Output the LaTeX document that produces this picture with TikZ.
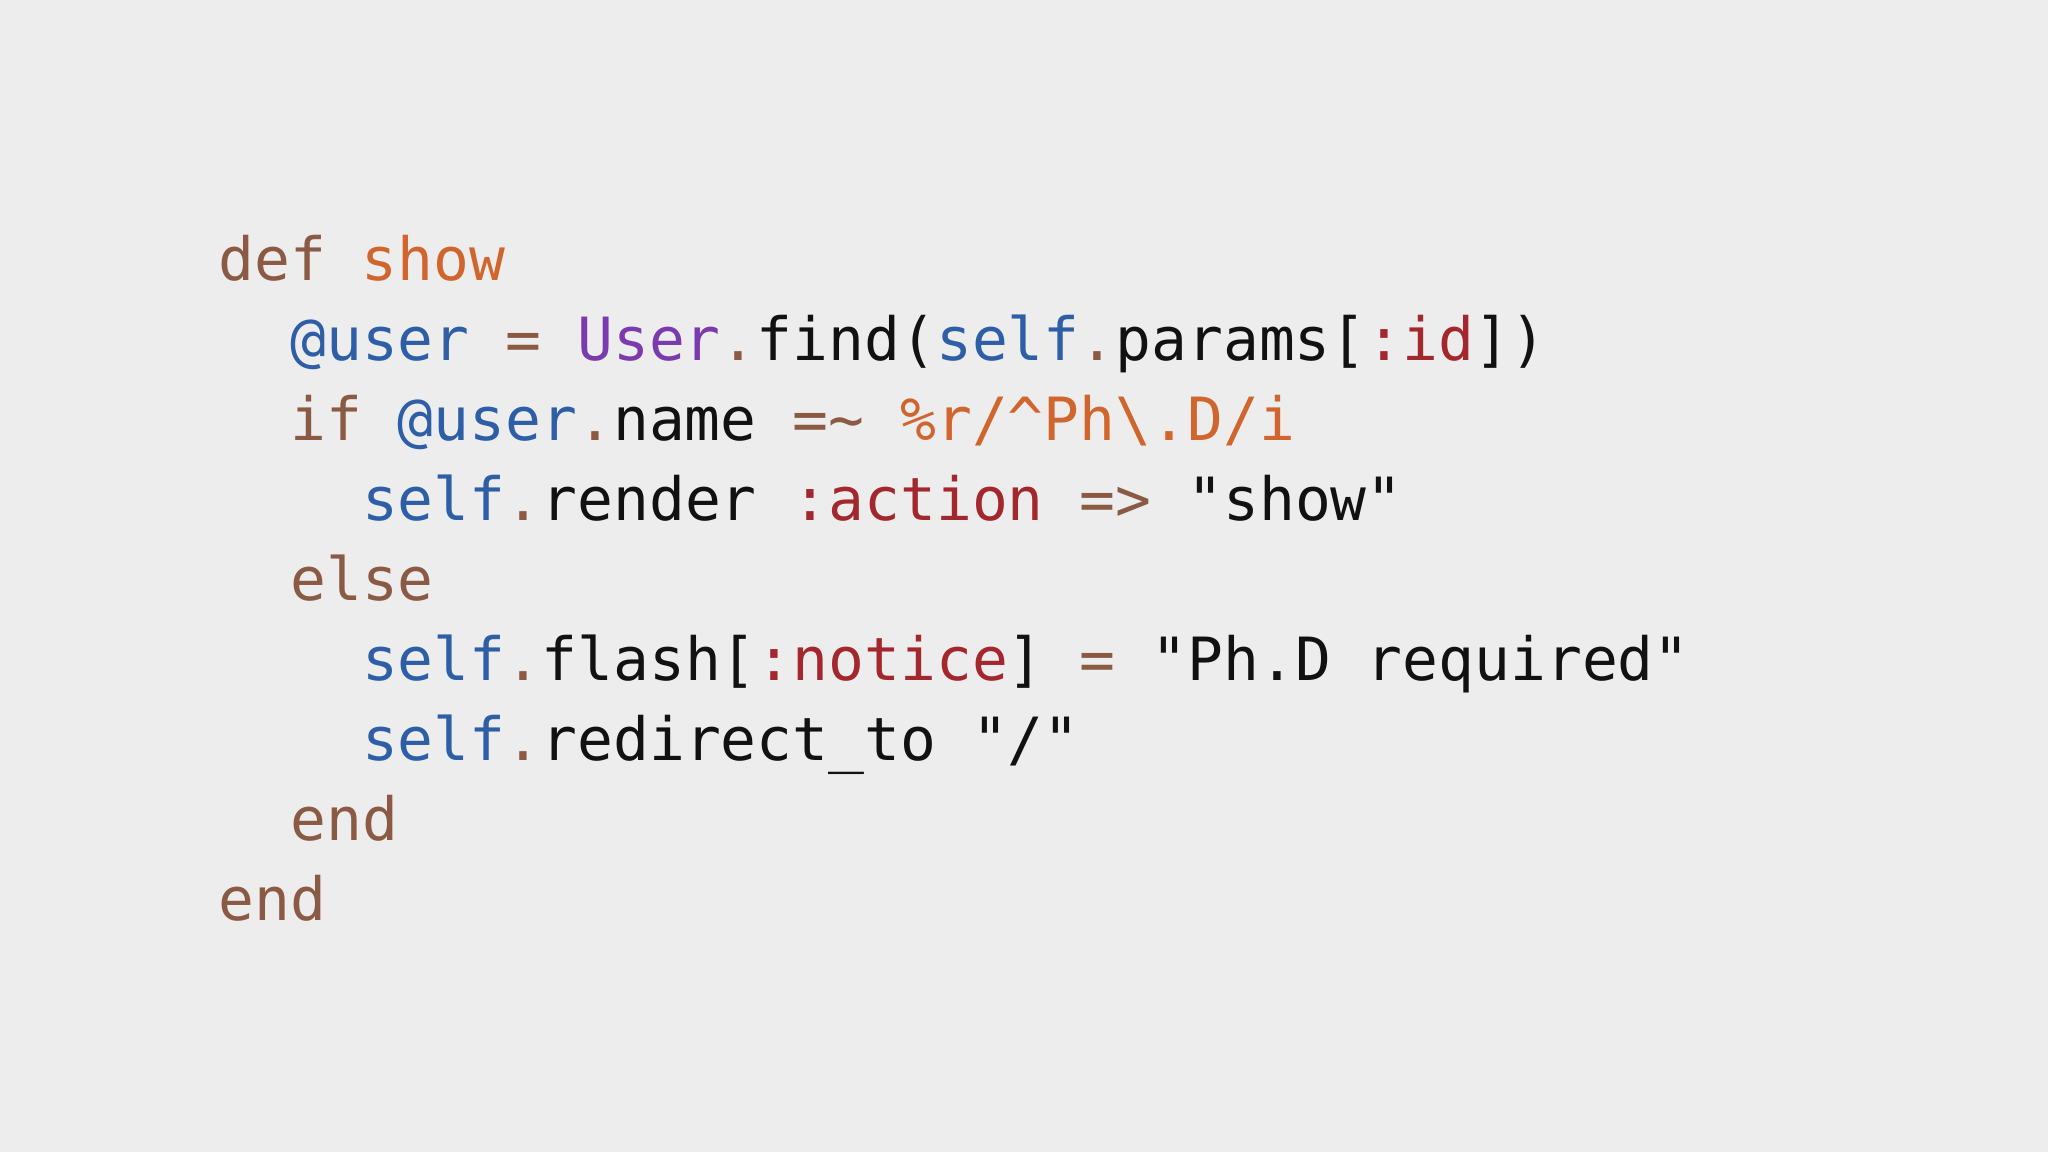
\documentclass[tikz,border=0pt]{standalone}
\usepackage{fontspec}
\newfontfamily\code{DejaVu Sans Mono}
\definecolor{bg}{HTML}{EDEDED}
\definecolor{kw}{HTML}{8A5A44}
\definecolor{fn}{HTML}{D0652E}
\definecolor{iv}{HTML}{2E5FA6}
\definecolor{cl}{HTML}{7B3BAE}
\definecolor{sy}{HTML}{A3282E}
\definecolor{tx}{HTML}{111111}
\newcommand{\K}[1]{\textcolor{kw}{#1}}
\newcommand{\F}[1]{\textcolor{fn}{#1}}
\newcommand{\V}[1]{\textcolor{iv}{#1}}
\newcommand{\C}[1]{\textcolor{cl}{#1}}
\newcommand{\Y}[1]{\textcolor{sy}{#1}}
\newcommand{\ind}[1]{\hspace*{#1\dimexpr 17.96pt\relax}}
\begin{document}
\begin{tikzpicture}[x=1pt,y=1pt,
  codeline/.style={anchor=base west,inner sep=0pt,font=\code\fontsize{29.8pt}{36pt}\selectfont,text=tx}]
\fill[bg] (0,0) rectangle (1024,576);
\useasboundingbox (0,0) rectangle (1024,576);
\node[codeline] (l1) at (109,435.6) {\K{def} \F{show}};
\node[codeline] (l2) at (109,395.6) {\ind{2}\V{@user} \K{=} \C{User}\K{.}find(\V{self}\K{.}params[\Y{:id}])};
\node[codeline] (l3) at (109,355.6) {\ind{2}\K{if} \V{@user}\K{.}name \K{=\textasciitilde} \F{\%r/\textasciicircum Ph\textbackslash.D/i}};
\node[codeline] (l4) at (109,315.6) {\ind{4}\V{self}\K{.}render \Y{:action} \K{=>} "show"};
\node[codeline] (l5) at (109,275.6) {\ind{2}\K{else}};
\node[codeline] (l6) at (109,235.6) {\ind{4}\V{self}\K{.}flash[\Y{:notice}] \K{=} "Ph.D required"};
\node[codeline] (l7) at (109,195.6) {\ind{4}\V{self}\K{.}redirect\_to "/"};
\node[codeline] (l8) at (109,155.6) {\ind{2}\K{end}};
\node[codeline] (l9) at (109,115.6) {\K{end}};
\end{tikzpicture}
\end{document}
